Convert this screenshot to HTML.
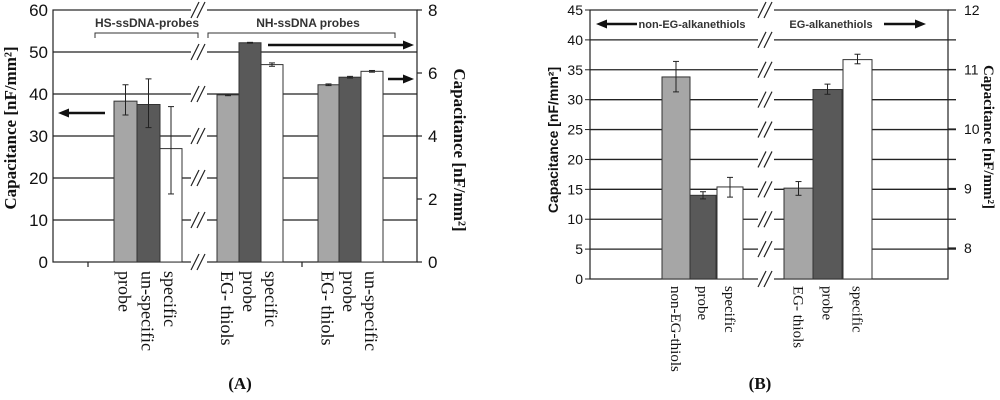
<!DOCTYPE html>
<html><head><meta charset="utf-8">
<style>
html,body{margin:0;padding:0;background:#fff;}
svg{display:block;font-family:"Liberation Sans",sans-serif;}
.serif{font-family:"Liberation Serif",serif;}
</style></head>
<body>
<svg id="chart" width="1000" height="400" viewBox="0 0 1000 400" xmlns="http://www.w3.org/2000/svg"></svg>
<script>
// Panel A data (left-axis units, nF/mm2)
const catsA = ["probe","un-specific","specific","EG- thiols","probe","specific","EG- thiols","probe","un-specific"];
const valsA = [38.3,37.5,27,39.8,52.2,47,42.2,44,45.4];
const errLoA = [35,32,16.2,39.6,52.1,46.6,42.0,43.8,45.2];
const errHiA = [42.2,43.6,37,40.0,52.3,47.4,42.4,44.2,45.6];
const leftTicksA = ["0","10","20","30","40","50","60"];
const rightTicksA = ["0","2","4","6","8"];
// Panel B data
const catsB = ["non-EG-thiols","probe","specific","EG- thiols","probe","specific"];
const valsB = [33.8,14,15.4,15.2,31.7,36.7];
const errLoB = [31.3,13.4,13.7,14,30.9,36];
const errHiB = [36.4,14.6,17,16.3,32.6,37.6];
const leftTicksB = ["0","5","10","15","20","25","30","35","40","45"];
const rightTicksB = ["8","9","10","11","12"];

const fills = ["#a6a6a6","#595959","#ffffff"];
const svg = document.getElementById('chart');
const NS = "http://www.w3.org/2000/svg";
function mk(tag, attrs, name, parent){
  const e = document.createElementNS(NS, tag);
  for (const k in attrs) e.setAttribute(k, attrs[k]);
  
  
  (parent||svg).appendChild(e);
  return e;
}
function txt(x,y,s,name,opts){
  const t = mk('text', Object.assign({x:x,y:y,'font-size':14,fill:'#111'}, opts||{}), name);
  t.textContent = s;
  return t;
}
function line(x1,y1,x2,y2,name,w,c){
  return mk('line',{x1:x1,y1:y1,x2:x2,y2:y2,stroke:c||'#222','stroke-width':w||1.3},name);
}
function arrow(x1,y,x2,name){
  line(x1,y,x2-(x2>x1?8:-8),y,name,2.5,'#111');
  const d = x2>x1?-1:1;
  mk('polygon',{points:`${x2},${y} ${x2+d*11},${y-4.5} ${x2+d*11},${y+4.5}`,fill:'#111'},name+'-head');
}
function brk(x,y,name){
  mk('rect',{x:x-9,y:y-8,width:16,height:16,fill:'#fff'},name+'-gap');
  line(x-9,y+8,x-1,y-8,name,1.2);
  line(x-3,y+8,x+5,y-8,name,1.2);
}

// ---------- Panel A ----------
const A = {x0:53, x1:417, y0:262, y1:10, max:60, rmax:8};
const yA = v => A.y0 - (v/A.max)*(A.y0-A.y1);
const yAr = v => A.y0 - (v/A.rmax)*(A.y0-A.y1);
const barXA = [114,137,160,217,239,261,318,339,361];
const barWA = [23,23,22,22,22,22,21,22,22];
leftTicksA.forEach((t,i)=>{
  const v = +t, y = yA(v);
  if (v>0 && v<A.max) line(A.x0,y,A.x1,y,'gridline-a',1.3);
  txt(48,y+6,t,'left-tick-a',{'text-anchor':'end','font-size':17});
});
mk('rect',{x:A.x0,y:A.y1,width:A.x1-A.x0,height:A.y0-A.y1,fill:'none',stroke:'#222','stroke-width':1.2},'plot-frame-a');
rightTicksA.forEach(t=>{
  const y = yAr(+t);
  line(A.x1,y,A.x1+5,y,'right-tick-mark-a',1.2);
  txt(428,y+6,t,'right-tick-a',{'font-size':17});
});
line(88,A.y0,88,A.y0+5,'x-tick-a',1.2);
line(302,A.y0,302,A.y0+5,'x-tick-a',1.2);
valsA.forEach((v,i)=>{
  const y = yA(v);
  mk('rect',{x:barXA[i],y:y,width:barWA[i],height:A.y0-y,fill:fills[i%3],stroke:'#333','stroke-width':1},'bar-a-'+i);
  const cx = barXA[i]+barWA[i]/2, lo=yA(errLoA[i]), hi=yA(errHiA[i]);
  line(cx,lo,cx,hi,'error-bar-a',1); line(cx-3,lo,cx+3,lo,'error-cap-a',1); line(cx-3,hi,cx+3,hi,'error-cap-a',1);
  txt(0,0,catsA[i],'x-label-a',{'font-size':18,class:'serif',transform:`translate(${cx-7},271) rotate(90)`});
});
[10,52,94,136,178,220,262].forEach(y=>brk(200,y,'axis-break-a'));
txt(147,27,'HS-ssDNA-probes','group-label-hs',{'text-anchor':'middle','font-size':12,'font-weight':'bold',fill:'#333'});
mk('polyline',{points:'95,38 95,33 198,33 198,38',fill:'none',stroke:'#333','stroke-width':1},'bracket-hs');
txt(308,27,'NH-ssDNA probes','group-label-nh',{'text-anchor':'middle','font-size':12,'font-weight':'bold',fill:'#333'});
mk('polyline',{points:'208,38 208,33 395,33 395,38',fill:'none',stroke:'#333','stroke-width':1},'bracket-nh');
arrow(268,45,414,'arrow-right-top');
arrow(388,79,414,'arrow-right-small');
arrow(105,113,58,'arrow-left-a');
txt(0,0,'Capacitance [nF/mm²]','y-axis-title-a-left',{class:'serif','font-weight':'bold','font-size':17,'text-anchor':'middle',transform:'translate(16,128) rotate(-90)'});
txt(0,0,'Capacitance [nF/mm²]','y-axis-title-a-right',{class:'serif','font-weight':'bold','font-size':17,'text-anchor':'middle',transform:'translate(454,150) rotate(90)'});
txt(240,389,'(A)','panel-label-a',{class:'serif','font-weight':'bold','font-size':17,'text-anchor':'middle'});

// ---------- Panel B ----------
const B = {x0:590, x1:948, y0:279, y1:10, max:45, rmin:8, rmax:12};
const yB = v => B.y0 - (v/B.max)*(B.y0-B.y1);
const yBr = v => 248 - (v-B.rmin)*((248-10)/(B.rmax-B.rmin));
const barXB = [662,690,717,784,813,843];
const barWB = [28,26,26,29,29,29];
leftTicksB.forEach(t=>{
  const v=+t, y=yB(v);
  if (v>0 && v<B.max) line(B.x0,y,B.x1+8,y,'gridline-b',1.3);
  line(B.x0-5,y,B.x0,y,'left-tick-mark-b',1);
  txt(583,y+5,t,'left-tick-b',{'text-anchor':'end','font-size':14});
});
mk('rect',{x:B.x0,y:B.y1,width:B.x1-B.x0,height:B.y0-B.y1,fill:'none',stroke:'#222','stroke-width':1.2},'plot-frame-b');
rightTicksB.forEach(t=>{
  const y=yBr(+t);
  line(B.x1,y,B.x1+8,y,'right-tick-mark-b',1.2);
  txt(964,y+5,t,'right-tick-b',{'font-size':14});
});
valsB.forEach((v,i)=>{
  const y=yB(v);
  mk('rect',{x:barXB[i],y:y,width:barWB[i],height:B.y0-y,fill:fills[i%3],stroke:'#333','stroke-width':1},'bar-b-'+i);
  const cx=barXB[i]+barWB[i]/2, lo=yB(errLoB[i]), hi=yB(errHiB[i]);
  line(cx,lo,cx,hi,'error-bar-b',1); line(cx-3,lo,cx+3,lo,'error-cap-b',1); line(cx-3,hi,cx+3,hi,'error-cap-b',1);
  txt(0,0,catsB[i],'x-label-b',{'font-size':15,class:'serif',transform:`translate(${cx-5},286) rotate(90)`});
});
leftTicksB.forEach(t=>brk(767,yB(+t),'axis-break-b'));
txt(692,28,'non-EG-alkanethiols','group-label-non-eg',{'text-anchor':'middle','font-size':11,'font-weight':'bold',fill:'#333'});
arrow(637,24,596,'arrow-left-b');
txt(831,28,'EG-alkanethiols','group-label-eg',{'text-anchor':'middle','font-size':11,'font-weight':'bold',fill:'#333'});
arrow(884,24,926,'arrow-right-b');
txt(0,0,'Capacitance [nF/mm²]','y-axis-title-b-left',{'font-weight':'bold','font-size':14,'text-anchor':'middle',transform:'translate(558,140) rotate(-90)'});
txt(0,0,'Capacitance [nF/mm²]','y-axis-title-b-right',{class:'serif','font-weight':'bold','font-size':15,'text-anchor':'middle',transform:'translate(984,137) rotate(90)'});
txt(760,389,'(B)','panel-label-b',{class:'serif','font-weight':'bold','font-size':17,'text-anchor':'middle'});
</script>
</body></html>
